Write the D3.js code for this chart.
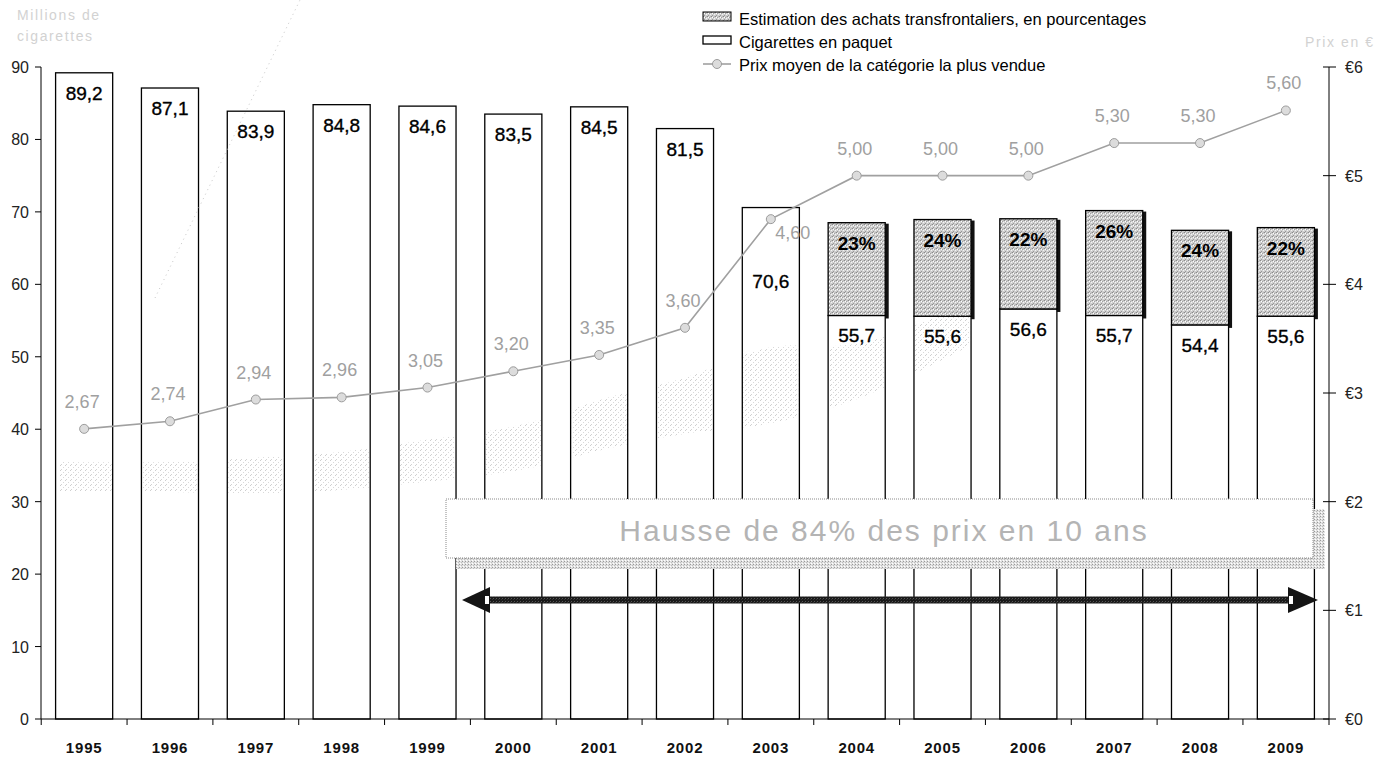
<!DOCTYPE html>
<html>
<head>
<meta charset="utf-8">
<script src="https://cdn.jsdelivr.net/npm/d3@7"></script>
<style>
  body { margin: 0; background: #fff; }
  svg { display: block; font-family: "Liberation Sans", Arial, sans-serif; }
</style>
</head>
<body>
<svg id="chart" width="1389" height="760"></svg>
<script>
// ---- data ----
const years = ["1995","1996","1997","1998","1999","2000","2001","2002","2003","2004","2005","2006","2007","2008","2009"];
// cigarettes sold in packs, billions
const packs = [89.2, 87.1, 83.9, 84.8, 84.6, 83.5, 84.5, 81.5, 70.6, 55.7, 55.6, 56.6, 55.7, 54.4, 55.6];
// estimated cross-border purchases, % of pack sales
const crossBorderPct = [null, null, null, null, null, null, null, null, null, 23, 24, 22, 26, 24, 22];
// average price of the best-selling category, euros
const prices = [2.67, 2.74, 2.94, 2.96, 3.05, 3.20, 3.35, 3.60, 4.60, 5.00, 5.00, 5.00, 5.30, 5.30, 5.60];
const leftTicks = [0, 10, 20, 30, 40, 50, 60, 70, 80, 90];
const rightTicks = [0, 1, 2, 3, 4, 5, 6];
const legendLabels = [
  "Estimation des achats transfrontaliers, en pourcentages",
  "Cigarettes en paquet",
  "Prix moyen de la catégorie la plus vendue"
];
const leftTitle = ["Millions de", "cigarettes"];
const rightTitle = "Prix en €";
const noteText = "Hausse de 84% des prix en 10 ans";

// ---- setup ----
const fr = d3.formatLocale({ decimal: ",", thousands: " ", grouping: [3], currency: ["€", ""] });
const f1 = fr.format(".1f"), f2 = fr.format(".2f");

const svg = d3.select("#chart");
const defs = svg.append("defs");

function stipple(id, size, base, dots) {
  const p = defs.append("pattern").attr("id", id)
    .attr("width", size).attr("height", size).attr("patternUnits", "userSpaceOnUse");
  if (base) p.append("rect").attr("width", size).attr("height", size).attr("fill", base);
  dots.forEach(([px, py, c]) => p.append("rect").attr("x", px).attr("y", py)
    .attr("width", 1).attr("height", 1).attr("fill", c));
}
stipple("stipple", 4, "#d0d0d0", [[0,0,"#8a8a8a"],[2,1,"#a2a2a2"],[1,3,"#979797"],[3,2,"#f4f4f4"],[1,1,"#fff"],[3,0,"#b8b8b8"]]);
stipple("shadowDots", 3, "#e2e2e2", [[0,0,"#9a9a9a"],[2,1,"#bdbdbd"],[1,2,"#fff"]]);
stipple("ghostDots", 5, null, [[0,0,"#bdbdbd"],[3,2,"#cccccc"],[1,4,"#c4c4c4"]]);
stipple("darkDots", 3, "#1a1a1a", [[1,1,"#555"],[0,2,"#333"]]);

const x = d3.scaleBand().domain(years).range([41, 1329]).paddingInner(0.335).paddingOuter(0.17);
const yL = d3.scaleLinear().domain([0, 90]).range([719, 67]);
const yR = d3.scaleLinear().domain([0, 6]).range([719, 67]);
const cx = d => x(d.year) + x.bandwidth() / 2;

const data = years.map((y, i) => ({ year: y, pack: packs[i], pct: crossBorderPct[i], price: prices[i] }));
data.forEach(d => { d.total = d.pct == null ? d.pack : d.pack * (1 + d.pct / 100); });
const withPct = data.filter(d => d.pct != null);

// ---- axis titles ----
svg.append("g").selectAll("text").data(leftTitle).join("text")
  .attr("x", 17).attr("y", (d, i) => 20 + i * 21)
  .attr("font-size", 14).attr("letter-spacing", 1.6).attr("fill", "#d2d2d2").text(d => d);
svg.append("text").attr("x", 1305).attr("y", 47).attr("font-size", 14)
  .attr("letter-spacing", 1.6).attr("fill", "#d2d2d2").text(rightTitle);

// ---- bars ----
const gBars = svg.append("g");
gBars.selectAll("rect.pack").data(data).join("rect").attr("class", "pack")
  .attr("x", d => x(d.year)).attr("width", x.bandwidth())
  .attr("y", d => yL(d.pack)).attr("height", d => yL(0) - yL(d.pack))
  .attr("fill", "#fff").attr("stroke", "#000").attr("stroke-width", 1.3);

gBars.selectAll("rect.shade").data(withPct).join("rect").attr("class", "shade")
  .attr("x", d => x(d.year) + x.bandwidth()).attr("width", 3.5)
  .attr("y", d => yL(d.total) + 1).attr("height", d => yL(d.pack) - yL(d.total) + 2)
  .attr("fill", "#111");

gBars.selectAll("rect.cross").data(withPct).join("rect").attr("class", "cross")
  .attr("x", d => x(d.year)).attr("width", x.bandwidth())
  .attr("y", d => yL(d.total)).attr("height", d => yL(d.pack) - yL(d.total))
  .attr("fill", "url(#stipple)").attr("stroke", "#000").attr("stroke-width", 1.3);

// faint rising band showing through the bars
const clip = defs.append("clipPath").attr("id", "barClip");
clip.selectAll("rect").data(data).join("rect")
  .attr("x", d => x(d.year) + 1).attr("width", x.bandwidth() - 2)
  .attr("y", d => yL(d.total) + 1).attr("height", d => yL(0) - yL(d.total) - 2);
const bandTop = [[60,462],[170,462],[250,458],[340,452],[425,440],[520,425],[610,397],[684,378],[767,348],[860,343],[1000,290]];
const bandBot = [[1000,330],[860,398],[767,424],[684,434],[610,448],[520,470],[425,482],[340,490],[250,494],[170,492],[60,492]];
svg.append("path").attr("clip-path", "url(#barClip)")
  .attr("d", d3.line().curve(d3.curveCatmullRom)(bandTop) + "L" + d3.line().curve(d3.curveCatmullRom)(bandBot).slice(1) + "Z")
  .attr("fill", "url(#ghostDots)").attr("opacity", 0.75);
svg.append("line").attr("x1", 155).attr("y1", 298).attr("x2", 300).attr("y2", 0)
  .attr("stroke", "#c8c8c8").attr("stroke-width", 1).attr("stroke-dasharray", "1,4");

// ---- axes ----
const gAxes = svg.append("g").attr("stroke", "#000").attr("fill", "none");
gAxes.append("line").attr("x1", 41).attr("x2", 41).attr("y1", yL(90)).attr("y2", yL(0));
gAxes.selectAll("line.tl").data(leftTicks).join("line").attr("class", "tl")
  .attr("x1", 35).attr("x2", 41).attr("y1", d => yL(d)).attr("y2", d => yL(d));
svg.append("g").selectAll("text").data(leftTicks).join("text")
  .attr("x", 29).attr("y", d => yL(d) + 6).attr("text-anchor", "end")
  .attr("font-size", 16).attr("fill", "#222").text(d => d);

gAxes.append("line").attr("x1", 1329).attr("x2", 1329).attr("y1", yR(6)).attr("y2", yR(0));
gAxes.selectAll("line.tr").data(rightTicks).join("line").attr("class", "tr")
  .attr("x1", 1323).attr("x2", 1336).attr("y1", d => yR(d)).attr("y2", d => yR(d));
svg.append("g").selectAll("text").data(rightTicks).join("text")
  .attr("x", 1345).attr("y", d => yR(d) + 6)
  .attr("font-size", 16).attr("fill", "#222").text(d => "€" + d);

gAxes.append("line").attr("x1", 41).attr("x2", 1329).attr("y1", yL(0)).attr("y2", yL(0));
const bounds = years.map((y, i) => x(y) - x.step() * x.paddingInner() / 2);
bounds.push(1329);
gAxes.selectAll("line.tb").data(bounds).join("line").attr("class", "tb")
  .attr("x1", d => d).attr("x2", d => d).attr("y1", yL(0)).attr("y2", yL(0) + 6);
svg.append("g").selectAll("text").data(data).join("text")
  .attr("x", cx).attr("y", 753).attr("text-anchor", "middle")
  .attr("font-size", 15).attr("font-weight", "bold").attr("letter-spacing", 0.8)
  .attr("fill", "#111").text(d => d.year);

// ---- annotation: price rise ----
const gNote = svg.append("g");
gNote.append("rect").attr("x", 456).attr("y", 509).attr("width", 869).attr("height", 60)
  .attr("fill", "url(#shadowDots)");
gNote.append("rect").attr("x", 446).attr("y", 499).attr("width", 867).attr("height", 59)
  .attr("fill", "#fff").attr("stroke", "#8a8a8a").attr("stroke-width", 1).attr("stroke-dasharray", "1,1");
gNote.append("text").attr("x", 884).attr("y", 541).attr("text-anchor", "middle")
  .attr("font-size", 30).attr("letter-spacing", 2).attr("fill", "#b4b4b4")
  .text(noteText);

const ay = 600;
gNote.append("rect").attr("x", 486).attr("y", ay - 3.5).attr("width", 806).attr("height", 7).attr("fill", "url(#darkDots)");
gNote.append("path").attr("d", `M462,${ay}L490,${ay - 13}L490,${ay + 13}Z`).attr("fill", "#151515");
gNote.append("path").attr("d", `M1318,${ay}L1288,${ay - 13}L1288,${ay + 13}Z`).attr("fill", "#151515");
gNote.append("rect").attr("x", 485).attr("y", ay - 4).attr("width", 4).attr("height", 8).attr("fill", "#fff");
gNote.append("rect").attr("x", 1289).attr("y", ay - 4).attr("width", 4).attr("height", 8).attr("fill", "#fff");

// ---- bar labels ----
svg.append("g").selectAll("text").data(data).join("text")
  .attr("x", cx).attr("y", d => yL(d.pack) + (d.year === "2003" ? 80 : 27))
  .attr("text-anchor", "middle").attr("font-size", 19).attr("fill", "#000")
  .attr("stroke", "#000").attr("stroke-width", 0.35).text(d => f1(d.pack));
svg.append("g").selectAll("text").data(withPct).join("text")
  .attr("x", cx).attr("y", d => yL(d.total) + 27)
  .attr("text-anchor", "middle").attr("font-size", 19).attr("font-weight", "bold")
  .attr("fill", "#000").text(d => d.pct + "%");

// ---- price line ----
const gLine = svg.append("g");
gLine.append("path").datum(data)
  .attr("d", d3.line().x(cx).y(d => yR(d.price)))
  .attr("fill", "none").attr("stroke", "#a0a0a0").attr("stroke-width", 1.6);
gLine.selectAll("circle").data(data).join("circle")
  .attr("cx", cx).attr("cy", d => yR(d.price)).attr("r", 4.5)
  .attr("fill", "#dcdcdc").attr("stroke", "#9c9c9c").attr("stroke-width", 1);
gLine.selectAll("text").data(data).join("text")
  .attr("x", d => cx(d) + (d.year === "2003" ? 22 : -2))
  .attr("y", d => yR(d.price) + (d.year === "2003" ? 20 : -21))
  .attr("text-anchor", "middle").attr("font-size", 18).attr("fill", "#a0a0a0")
  .text(d => f2(d.price));

// ---- legend ----
const gLeg = svg.append("g").attr("transform", "translate(703,0)");
const rows = [25, 48, 71];
gLeg.append("rect").attr("x", 0).attr("y", rows[0] - 13).attr("width", 28).attr("height", 9)
  .attr("fill", "url(#stipple)").attr("stroke", "#000").attr("stroke-width", 1);
gLeg.append("rect").attr("x", 0).attr("y", rows[1] - 12).attr("width", 28).attr("height", 8)
  .attr("fill", "#fff").attr("stroke", "#000").attr("stroke-width", 1.3);
gLeg.append("line").attr("x1", 0).attr("x2", 28).attr("y1", rows[2] - 7).attr("y2", rows[2] - 7)
  .attr("stroke", "#a0a0a0").attr("stroke-width", 1.6);
gLeg.append("circle").attr("cx", 14).attr("cy", rows[2] - 7).attr("r", 4.5)
  .attr("fill", "#dcdcdc").attr("stroke", "#9c9c9c");
gLeg.selectAll("text").data(legendLabels).join("text")
  .attr("x", 36).attr("y", (d, i) => rows[i])
  .attr("font-size", 16.5).attr("fill", "#000").text(d => d);
</script>
</body>
</html>
